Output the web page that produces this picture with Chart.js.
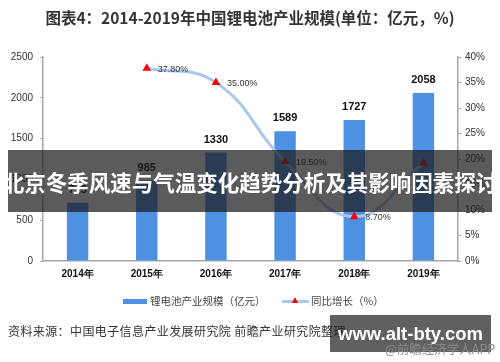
<!DOCTYPE html>
<html><head><meta charset="utf-8">
<script src="https://cdn.jsdelivr.net/npm/chart.js@4"></script>
<style>
html,body{margin:0;padding:0;background:#fff;}
#wrap{position:relative;width:500px;height:362px;overflow:hidden;font-family:"Noto Sans CJK SC","Noto Sans",sans-serif;}
canvas{position:absolute;left:0;top:0;}
.t{position:absolute;white-space:nowrap;}
</style></head><body>
<div id="wrap">
<canvas id="c" width="500" height="362"></canvas>
<div class="t" id="title" style="left:0;width:500px;top:6px;text-align:center;font-size:15.5px;font-weight:bold;color:#333;line-height:22px;">图表4：2014-2019年中国锂电池产业规模(单位：亿元，%)</div>
<div class="t" style="left:123px;top:299px;width:24px;height:5px;background:#4e91e3;"></div>
<div class="t" style="left:150px;top:293px;font-size:10.5px;color:#444;line-height:16px;">锂电池产业规模（亿元）</div>
<div class="t" style="left:282px;top:300px;width:27px;height:3px;background:#aac8ee;"></div>
<div class="t" style="left:292px;top:297px;width:0;height:0;border-left:3.5px solid transparent;border-right:3.5px solid transparent;border-bottom:6px solid #f00;"></div>
<div class="t" style="left:311px;top:293px;font-size:10.5px;color:#444;line-height:16px;">同比增长（%）</div>
<div class="t" style="left:8px;top:322px;font-size:12px;color:#333;line-height:18px;letter-spacing:0.4px;">资料来源：中国电子信息产业发展研究院 前瞻产业研究院整理</div>
<div class="t" style="left:8px;top:150px;width:484px;height:62px;background:rgba(28,28,28,0.72);"></div>
<div class="t" style="left:0;width:500px;top:168px;text-align:center;font-size:21.5px;font-weight:bold;color:#fff;line-height:28px;">北京冬季风速与气温变化趋势分析及其影响因素探讨</div>
<div class="t" style="left:330px;top:315px;width:161px;height:37px;background:rgba(28,28,28,0.7);"></div>
<div class="t" style="left:330px;width:161px;top:323px;text-align:center;font-family:'Liberation Sans',Arial,sans-serif;font-size:18.5px;font-weight:bold;color:#fff;line-height:22px;">www.alt-bty.com</div>
<div class="t" style="left:385px;top:341px;font-size:12.5px;color:#8a8a8a;line-height:16px;">@前瞻经济学人APP</div>
</div>
<script>
const categories = ["2014年","2015年","2016年","2017年","2018年","2019年"];
const scaleValues = [715, 985, 1330, 1589, 1727, 2058];
const growthValues = [null, 37.8, 35.0, 19.5, 8.7, 19.17];
const growthLabels = ["", "37.80%", "35.00%", "19.50%", "8.70%", ""];
const leftTicks = [0, 500, 1000, 1500, 2000, 2500];
const rightTicks = [0, 5, 10, 15, 20, 25, 30, 35, 40];

const labelPlugin = {
  id: 'labels',
  afterDatasetsDraw(chart) {
    const ctx = chart.ctx;
    ctx.save();
    const bars = chart.getDatasetMeta(0).data;
    ctx.font = 'bold 11px "Liberation Sans", Arial, sans-serif';
    ctx.fillStyle = '#111';
    ctx.textAlign = 'center';
    ctx.textBaseline = 'middle';
    bars.forEach((b, i) => ctx.fillText(String(scaleValues[i]), b.x, b.y - 13));
    const pts = chart.getDatasetMeta(1).data;
    ctx.font = '9px "Liberation Sans", Arial, sans-serif';
    ctx.fillStyle = '#333';
    ctx.textAlign = 'left';
    pts.forEach((p, i) => { if (growthLabels[i]) ctx.fillText(growthLabels[i], p.x + 11, p.y + 1); });
    ctx.restore();
  }
};

new Chart(document.getElementById('c'), {
  data: {
    labels: categories,
    datasets: [
      { type: 'bar', data: scaleValues, backgroundColor: '#4e91e3', yAxisID: 'y', barPercentage: 0.62, categoryPercentage: 0.5, order: 2 },
      { type: 'line', data: growthValues, yAxisID: 'y1', borderColor: '#aac8ee', borderWidth: 3, tension: 0.45,
        pointStyle: 'triangle', pointRadius: 5, pointBackgroundColor: '#ff0000', pointBorderColor: '#ff0000', pointBorderWidth: 0, spanGaps: true, order: 1 }
    ]
  },
  options: {
    responsive: false, animation: false,
    layout: { padding: { top: 57, left: 0, right: 0, bottom: 0 } },
    plugins: { legend: { display: false }, tooltip: { enabled: false }, title: { display: false } },
    scales: {
      x: {
        grid: { display: false, drawTicks: false },
        border: { color: '#a6a6a6', width: 1.5 },
        ticks: { padding: 7, color: '#111', font: { size: 10, weight: 'bold', family: '"Liberation Sans", Arial, sans-serif' } },
        afterFit(s) { s.height = 101; }
      },
      y: {
        position: 'left', min: 0, max: 2500,
        afterBuildTicks(s) { s.ticks = leftTicks.map(v => ({ value: v })); },
        grid: { drawOnChartArea: false, tickLength: 3, color: '#a6a6a6' },
        border: { color: '#a6a6a6', width: 1.5 },
        ticks: { padding: 7, color: '#333', font: { size: 10, family: '"Liberation Sans", Arial, sans-serif' }, callback: v => String(v) },
        afterFit(s) { s.width = 43; }
      },
      y1: {
        position: 'right', min: 0, max: 40,
        afterBuildTicks(s) { s.ticks = rightTicks.map(v => ({ value: v })); },
        grid: { drawOnChartArea: false, tickLength: 3, color: '#a6a6a6' },
        border: { color: '#a6a6a6', width: 1.5 },
        ticks: { padding: 4, color: '#333', font: { size: 10, family: '"Liberation Sans", Arial, sans-serif' }, callback: v => v + '%' },
        afterFit(s) { s.width = 42; }
      }
    }
  },
  plugins: [labelPlugin]
});
</script>
</body></html>
